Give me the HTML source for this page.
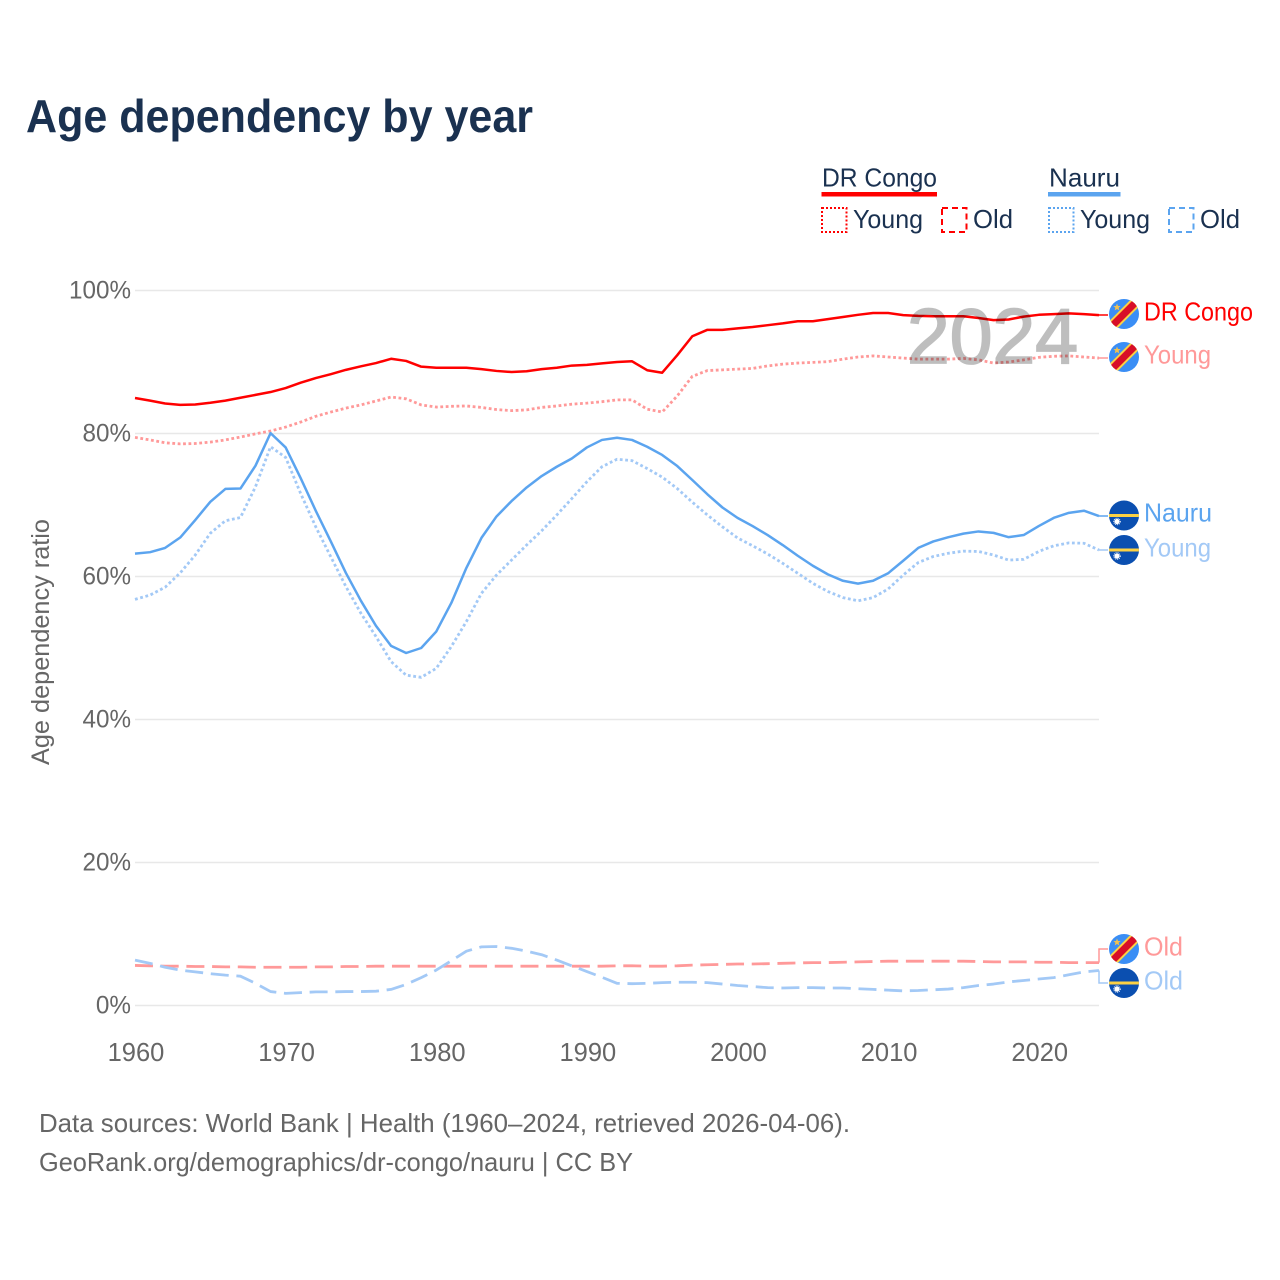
<!DOCTYPE html>
<html lang="en">
<head>
<meta charset="utf-8">
<title>Age dependency by year</title>
<style>
  html, body { margin: 0; padding: 0; background: #fff; }
  svg { display: block; font-family: "Liberation Sans", sans-serif; }
</style>
</head>
<body>
<svg id="chart" xmlns="http://www.w3.org/2000/svg" width="1280" height="1280" viewBox="0 0 1280 1280">
  <defs>
    <clipPath id="flag-clip"><circle cx="0" cy="0" r="15"></circle></clipPath>
    <g id="flag-drc" clip-path="url(#flag-clip)">
      <circle r="15.5" fill="#3a8ef5"></circle>
      <line x1="-20" y1="20" x2="20" y2="-20" stroke="#fcd144" stroke-width="11"></line>
      <line x1="-20" y1="20" x2="20" y2="-20" stroke="#d80e27" stroke-width="7"></line>
      <polygon points="-7,-10.5 -6,-8 -3.4,-7.9 -5.4,-6.2 -4.7,-3.6 -7,-5 -9.3,-3.6 -8.6,-6.2 -10.6,-7.9 -8,-8" fill="#f2c14e"></polygon>
    </g>
    <g id="flag-nauru" clip-path="url(#flag-clip)">
      <circle r="15.5" fill="#0b4fb0"></circle>
      <rect x="-16" y="-1.5" width="32" height="3" fill="#fcd144"></rect>
      <circle cx="-7" cy="6" r="2.6" fill="#ffffff"></circle>
      <circle cx="-7" cy="6" r="3.3" fill="none" stroke="#ffffff" stroke-width="0.9" stroke-dasharray="1 1"></circle>
    </g>
  </defs>

  <text x="26" y="132" font-size="46" font-weight="700" fill="#1a3150" textLength="507" lengthAdjust="spacingAndGlyphs">Age dependency by year</text>

  <g font-size="26" fill="#1a3150">
    <text x="822" y="186.5" textLength="115" lengthAdjust="spacingAndGlyphs">DR Congo</text>
    <rect x="821.5" y="192" width="115.5" height="4.5" fill="#ff0000"></rect>
    <rect x="822" y="208" width="24.5" height="24" fill="none" stroke="#ff0000" stroke-width="2" stroke-dasharray="2 2"></rect>
    <text x="853" y="228" textLength="70" lengthAdjust="spacingAndGlyphs">Young</text>
    <rect x="942" y="208" width="24.5" height="24" fill="none" stroke="#ff0000" stroke-width="2" stroke-dasharray="6 4"></rect>
    <text x="973" y="228" textLength="40" lengthAdjust="spacingAndGlyphs">Old</text>

    <text x="1049" y="186.5" textLength="71" lengthAdjust="spacingAndGlyphs">Nauru</text>
    <rect x="1048" y="192" width="72.5" height="4.5" fill="#5ba4ef"></rect>
    <rect x="1049" y="208" width="24.5" height="24" fill="none" stroke="#5ba4ef" stroke-width="2" stroke-dasharray="2 2"></rect>
    <text x="1080" y="228" textLength="70" lengthAdjust="spacingAndGlyphs">Young</text>
    <rect x="1169" y="208" width="24.5" height="24" fill="none" stroke="#5ba4ef" stroke-width="2" stroke-dasharray="6 4"></rect>
    <text x="1200" y="228" textLength="40" lengthAdjust="spacingAndGlyphs">Old</text>
  </g>

  <g id="grid"></g>
  <g id="y-ticks" font-size="25" fill="#666666" text-anchor="end"></g>
  <g id="x-ticks" font-size="25.5" fill="#666666" text-anchor="middle"></g>
  <text transform="translate(49,642) rotate(-90)" font-size="25" fill="#666666" text-anchor="middle" textLength="246" lengthAdjust="spacingAndGlyphs">Age dependency ratio</text>

  <g id="series" fill="none" stroke-linejoin="round"></g>

  <text x="907" y="363" font-size="78" font-weight="400" fill="#000000" stroke="#000000" stroke-width="1.8" opacity="0.25" textLength="171" lengthAdjust="spacingAndGlyphs">2024</text>

  <g id="connectors" fill="none" stroke-width="1.5"></g>

  <g font-size="26">
    <use href="#flag-drc" x="1124" y="314"></use>
    <text x="1144" y="320.5" fill="#ff0000" textLength="109" lengthAdjust="spacingAndGlyphs">DR Congo</text>
    <use href="#flag-drc" x="1124" y="357"></use>
    <text x="1144" y="363.5" fill="#ff9999" textLength="67" lengthAdjust="spacingAndGlyphs">Young</text>
    <use href="#flag-nauru" x="1124" y="515.5"></use>
    <text x="1144" y="521.5" fill="#5ba4ef" textLength="68" lengthAdjust="spacingAndGlyphs">Nauru</text>
    <use href="#flag-nauru" x="1124" y="550"></use>
    <text x="1144" y="556.5" fill="#a3c9f6" textLength="67" lengthAdjust="spacingAndGlyphs">Young</text>
    <use href="#flag-drc" x="1124" y="949"></use>
    <text x="1144" y="955.5" fill="#ff9999" textLength="39" lengthAdjust="spacingAndGlyphs">Old</text>
    <use href="#flag-nauru" x="1124" y="983"></use>
    <text x="1144" y="989.5" fill="#a3c9f6" textLength="39" lengthAdjust="spacingAndGlyphs">Old</text>
  </g>

  <g font-size="26" fill="#666666">
    <text x="39" y="1132" textLength="811" lengthAdjust="spacingAndGlyphs">Data sources: World Bank | Health (1960–2024, retrieved 2026-04-06).</text>
    <text x="39" y="1171" textLength="594" lengthAdjust="spacingAndGlyphs">GeoRank.org/demographics/dr-congo/nauru | CC BY</text>
  </g>
</svg>

<script>
const years = [1960,1961,1962,1963,1964,1965,1966,1967,1968,1969,1970,1971,1972,1973,1974,1975,1976,1977,1978,1979,1980,1981,1982,1983,1984,1985,1986,1987,1988,1989,1990,1991,1992,1993,1994,1995,1996,1997,1998,1999,2000,2001,2002,2003,2004,2005,2006,2007,2008,2009,2010,2011,2012,2013,2014,2015,2016,2017,2018,2019,2020,2021,2022,2023,2024];
const xTickLabels = [1960,1970,1980,1990,2000,2010,2020];
const yTickLabels = [0,20,40,60,80,100];

const drCongoTotal = [84.97,84.6,84.2,84.0,84.05,84.3,84.6,85.0,85.4,85.8,86.35,87.1,87.75,88.3,88.9,89.4,89.85,90.45,90.15,89.35,89.2,89.2,89.2,89.0,88.75,88.6,88.7,89.0,89.2,89.5,89.6,89.8,90.0,90.1,88.85,88.5,90.95,93.6,94.5,94.5,94.7,94.9,95.15,95.4,95.7,95.7,96.0,96.3,96.6,96.85,96.85,96.55,96.45,96.4,96.4,96.4,96.15,95.85,95.95,96.35,96.6,96.7,96.8,96.7,96.55];
const drCongoYoung = [79.45,79.1,78.7,78.55,78.6,78.8,79.1,79.5,79.95,80.35,80.9,81.6,82.4,83.0,83.55,84.0,84.55,85.1,84.85,84.0,83.7,83.8,83.85,83.65,83.35,83.2,83.3,83.65,83.85,84.1,84.25,84.45,84.7,84.7,83.4,83.0,85.25,88.0,88.8,88.9,89.0,89.1,89.45,89.7,89.85,89.95,90.05,90.4,90.7,90.85,90.7,90.55,90.4,90.4,90.4,90.5,90.3,89.85,90.0,90.3,90.65,90.8,90.85,90.7,90.55];
const drCongoOld = [5.6,5.55,5.5,5.5,5.45,5.45,5.4,5.4,5.35,5.35,5.35,5.35,5.4,5.4,5.45,5.45,5.5,5.5,5.5,5.5,5.5,5.5,5.5,5.5,5.5,5.5,5.5,5.5,5.5,5.5,5.5,5.5,5.55,5.55,5.5,5.5,5.55,5.65,5.7,5.75,5.8,5.8,5.85,5.9,5.95,6.0,6.0,6.05,6.1,6.15,6.2,6.2,6.2,6.2,6.2,6.2,6.15,6.1,6.1,6.1,6.05,6.05,6.0,6.0,6.0];
const nauruTotal = [63.2,63.4,64.0,65.45,67.9,70.45,72.25,72.3,75.5,80.05,78.05,73.75,69.2,64.9,60.5,56.6,53.1,50.3,49.3,50.0,52.3,56.3,61.2,65.4,68.4,70.55,72.45,74.05,75.35,76.5,78.05,79.1,79.4,79.1,78.15,77.0,75.45,73.5,71.5,69.65,68.2,67.05,65.8,64.4,62.9,61.5,60.3,59.4,59.0,59.4,60.45,62.2,64.0,64.9,65.5,66.0,66.3,66.1,65.5,65.8,67.05,68.2,68.9,69.2,68.45];
const nauruYoung = [56.8,57.4,58.5,60.5,63.0,66.05,67.8,68.25,72.55,78.15,76.65,71.6,66.95,62.75,58.6,54.85,51.6,48.1,46.2,45.9,47.15,50.2,53.7,57.65,60.2,62.3,64.4,66.4,68.6,70.9,73.25,75.35,76.4,76.2,75.1,73.9,72.3,70.4,68.6,66.95,65.4,64.3,63.15,61.85,60.45,59.05,57.9,57.05,56.6,57.05,58.25,60.2,61.95,62.8,63.25,63.55,63.5,63.0,62.3,62.4,63.5,64.3,64.7,64.65,63.7];
const nauruOld = [6.35,5.9,5.35,4.95,4.7,4.45,4.25,4.1,3.1,1.95,1.7,1.8,1.9,1.9,1.95,1.95,2.0,2.25,2.95,3.9,4.95,6.25,7.6,8.2,8.25,8.0,7.6,7.1,6.35,5.55,4.75,3.95,3.1,3.05,3.1,3.2,3.25,3.25,3.2,3.0,2.8,2.65,2.5,2.45,2.5,2.5,2.45,2.45,2.35,2.25,2.15,2.05,2.1,2.2,2.3,2.5,2.8,3.0,3.3,3.5,3.7,3.9,4.3,4.7,4.9];

const SVG_NS = 'http://www.w3.org/2000/svg';
const xScale = function (year) { return 135 + (year - 1960) * 15.0625; };
const yScale = function (pct) { return 1005.5 - pct * 7.15; };

const gridGroup = document.getElementById('grid');
const yTickGroup = document.getElementById('y-ticks');
const xTickGroup = document.getElementById('x-ticks');
const seriesGroup = document.getElementById('series');
const connectorGroup = document.getElementById('connectors');

yTickLabels.forEach(function (value) {
  const line = document.createElementNS(SVG_NS, 'line');
  
  
  line.setAttribute('x1', xScale(1960));
  line.setAttribute('x2', xScale(2024));
  line.setAttribute('y1', yScale(value));
  line.setAttribute('y2', yScale(value));
  line.setAttribute('stroke', '#e8e8e8');
  line.setAttribute('stroke-width', '1.5');
  gridGroup.appendChild(line);

  const label = document.createElementNS(SVG_NS, 'text');
  
  
  label.setAttribute('x', 131);
  label.setAttribute('y', yScale(value) + 8);
  label.textContent = value + '%';
  yTickGroup.appendChild(label);
  label.setAttribute('textLength', (label.getComputedTextLength() * 0.97).toFixed(1));
  label.setAttribute('lengthAdjust', 'spacingAndGlyphs');
});

xTickLabels.forEach(function (year) {
  const label = document.createElementNS(SVG_NS, 'text');
  
  
  label.setAttribute('x', xScale(year) + 1);
  label.setAttribute('y', 1061);
  label.textContent = String(year);
  xTickGroup.appendChild(label);
});

function drawLine(values, name, color, dash, width) {
  const points = values.map(function (v, i) {
    return xScale(years[i]).toFixed(2) + ',' + yScale(v).toFixed(2);
  }).join(' ');
  const line = document.createElementNS(SVG_NS, 'polyline');
  
  
  line.setAttribute('points', points);
  line.setAttribute('stroke', color);
  line.setAttribute('stroke-width', width);
  if (dash) {
    line.setAttribute('stroke-dasharray', dash);
  }
  seriesGroup.appendChild(line);
}

drawLine(drCongoOld, 'line-dr-congo-old', '#ff9999', '18 7.7', '2.8');
drawLine(nauruOld, 'line-nauru-old', '#a3c9f6', '18 7.7', '2.8');
drawLine(drCongoYoung, 'line-dr-congo-young', '#ff9999', '2.8 2.6', '2.8');
drawLine(nauruYoung, 'line-nauru-young', '#a3c9f6', '2.8 2.6', '2.8');
drawLine(nauruTotal, 'line-nauru-total', '#5ba4ef', '', '2.5');
drawLine(drCongoTotal, 'line-dr-congo-total', '#ff0000', '', '2.5');

function drawConnector(values, labelY, name, color) {
  const endX = xScale(2024);
  const endY = yScale(values[values.length - 1]);
  const path = document.createElementNS(SVG_NS, 'polyline');
  
  
  path.setAttribute('points', endX + ',' + endY.toFixed(2) + ' ' + endX + ',' + labelY + ' ' + (endX + 9) + ',' + labelY);
  path.setAttribute('stroke', color);
  connectorGroup.appendChild(path);
}

drawConnector(drCongoTotal, 315, 'connector-dr-congo-total', '#ff0000');
drawConnector(drCongoYoung, 358, 'connector-dr-congo-young', '#ff9999');
drawConnector(nauruTotal, 516, 'connector-nauru-total', '#5ba4ef');
drawConnector(nauruYoung, 550, 'connector-nauru-young', '#a3c9f6');
drawConnector(drCongoOld, 949, 'connector-dr-congo-old', '#ff9999');
drawConnector(nauruOld, 983, 'connector-nauru-old', '#a3c9f6');
</script>
</body>
</html>
